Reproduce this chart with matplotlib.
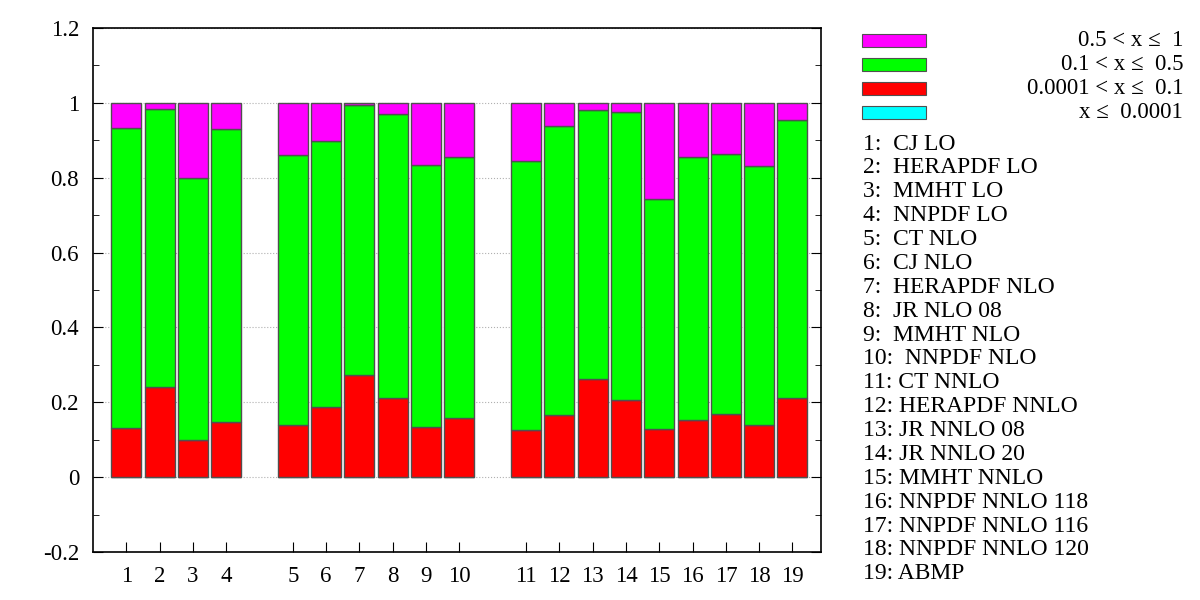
import matplotlib.pyplot as plt
import numpy as np
from matplotlib.patches import Rectangle
from matplotlib.ticker import MultipleLocator, FormatStrFormatter

plt.rcParams['font.family'] = ['Liberation Serif', 'DejaVu Serif']

models = ['CJ LO', 'HERAPDF LO', 'MMHT LO', 'NNPDF LO',
          'CT NLO', 'CJ NLO', 'HERAPDF NLO', 'JR NLO 08', 'MMHT NLO', ' NNPDF NLO',
          'CT NNLO', 'HERAPDF NNLO', 'JR NNLO 08', 'JR NNLO 20', 'MMHT NNLO',
          'NNPDF NNLO 118', 'NNPDF NNLO 116', 'NNPDF NNLO 120', 'ABMP']
groups = [0, 0, 0, 0, 1, 1, 1, 1, 1, 1, 2, 2, 2, 2, 2, 2, 2, 2, 2]

# fractions per x bin (cumulative tops)
frac_small = [0.0] * 19
red_top = [0.131, 0.240, 0.099, 0.147, 0.139, 0.187, 0.272, 0.211, 0.134, 0.158,
           0.126, 0.167, 0.261, 0.206, 0.128, 0.152, 0.169, 0.138, 0.211]
green_top = [0.933, 0.984, 0.800, 0.931, 0.861, 0.897, 0.993, 0.971, 0.833, 0.856,
             0.845, 0.938, 0.981, 0.976, 0.744, 0.856, 0.864, 0.832, 0.955]

series_labels = ['x \u2264  0.0001', '0.0001 < x \u2264  0.1',
                 '0.1 < x \u2264  0.5', '0.5 < x \u2264  1']
colors = ['#00ffff', '#ff0000', '#00ff00', '#ff00ff']

frac_small = np.array(frac_small)
red_top = np.array(red_top)
green_top = np.array(green_top)
layers = [frac_small, red_top - frac_small, green_top - red_top, 1 - green_top]

x = np.arange(19) + np.array(groups)  # gap of one slot between groups

fig = plt.figure(figsize=(12, 6), dpi=100)
ax = fig.add_axes([0.0775, 0.08, 0.6065, 0.8733])

bottom = np.zeros(19)
for vals, c in zip(layers, colors):
    ax.bar(x, vals, bottom=bottom, width=0.9, color=c,
           edgecolor='#505050', linewidth=1.0, zorder=2)
    bottom = bottom + vals

ax.set_xlim(-1, 20.85)
ax.set_ylim(-0.2, 1.2)
ax.set_xticks(x)
ax.set_xticklabels([str(i + 1) for i in range(19)])
ax.set_yticks(np.arange(-0.2, 1.21, 0.2))
ax.yaxis.set_major_formatter(FormatStrFormatter('%g'))
ax.yaxis.set_minor_locator(MultipleLocator(0.1))
ax.tick_params(axis='both', which='major', direction='in', length=7, width=0.8,
               labelsize=16.5, pad=10)
ax.tick_params(axis='y', which='both', right=True, direction='in')
ax.tick_params(axis='y', which='minor', length=4, width=0.6)
ax.tick_params(axis='x', top=False)
for s in ax.spines.values():
    s.set_linewidth(1.2)
ax.grid(axis='y', which='major', linestyle=':', color='#b0b0b0', linewidth=0.8, zorder=0)
ax.set_axisbelow(True)

# fraction legend (top first)
box_y = [0.933, 0.893, 0.853, 0.813]
for yy, lab, c in zip(box_y, series_labels[::-1], colors[::-1]):
    fig.add_artist(Rectangle((0.7185, yy - 0.011), 0.0535, 0.021, transform=fig.transFigure,
                             facecolor=c, edgecolor='#505050', linewidth=0.8))
    fig.text(0.986, yy, lab, ha='right', va='center', fontsize=16.5)

# model list
for i, name in enumerate(models):
    sep = ':  ' if i < 9 else ': '
    fig.text(0.7195, 0.76 - i * 0.0398, f'{i + 1}{sep}{name}', ha='left', va='center', fontsize=17)

fig.savefig('out.png', dpi=100)
